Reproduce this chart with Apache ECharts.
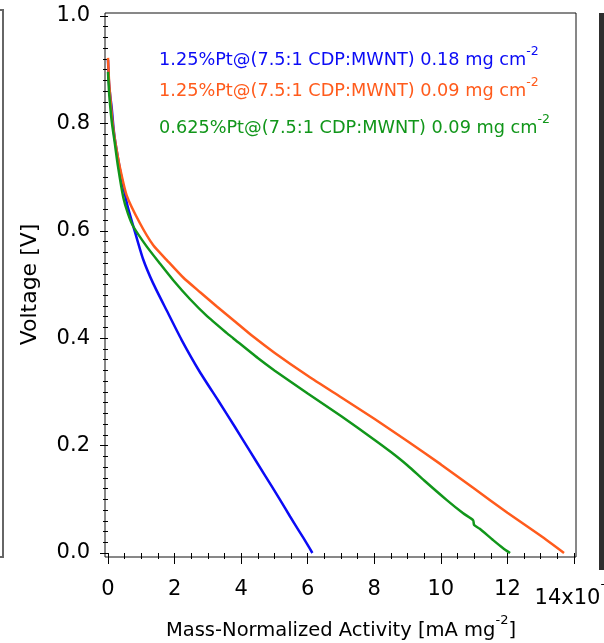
<!DOCTYPE html>
<html>
<head>
<meta charset="utf-8">
<script src="https://cdn.jsdelivr.net/npm/echarts@6/dist/echarts.min.js"></script>
<style>
  html, body { margin: 0; padding: 0; background: #fff; }
  #chart { width: 604px; height: 643px; }
</style>
</head>
<body>
<div id="chart"></div>
<script>
// legend names (the trailing "-2" is drawn as a superscript)
const seriesNames = [
  '1.25%Pt@(7.5:1 CDP:MWNT) 0.18 mg cm-2',
  '1.25%Pt@(7.5:1 CDP:MWNT) 0.09 mg cm-2',
  '0.625%Pt@(7.5:1 CDP:MWNT) 0.09 mg cm-2'
];
const seriesColors = ['#0b0bf5', '#ff5b1c', '#11961a'];

// [activity mA mg-2 (x10^-3), voltage V]
const blue018 = [
  [0, 0.918], [0.03, 0.875], [0.07, 0.85], [0.11, 0.83], [0.16, 0.795],
  [0.21, 0.769], [0.3, 0.735], [0.38, 0.707], [0.58, 0.648], [0.8, 0.6],
  [1.05, 0.548], [1.35, 0.503], [1.76, 0.452], [2.21, 0.397], [2.75, 0.338],
  [3.32, 0.283], [3.8, 0.236], [4.24, 0.192], [4.7, 0.146], [5.17, 0.099],
  [5.47, 0.068], [5.77, 0.038], [5.97, 0.018], [6.14, 0]
];
const orange009 = [
  [0, 0.922], [0.03, 0.88], [0.08, 0.84], [0.14, 0.8], [0.22, 0.765],
  [0.35, 0.72], [0.56, 0.666], [0.96, 0.614], [1.36, 0.573], [1.76, 0.546],
  [2.26, 0.513], [2.76, 0.486], [3.27, 0.459], [3.76, 0.434], [4.36, 0.403],
  [5, 0.373], [6, 0.33], [7, 0.29], [8, 0.25], [9, 0.208], [10, 0.165],
  [11, 0.12], [12, 0.075], [13, 0.032], [13.7, 0]
];
const green009 = [
  [0, 0.896], [0.03, 0.86], [0.07, 0.83], [0.12, 0.8], [0.2, 0.765],
  [0.3, 0.72], [0.46, 0.662], [0.6, 0.632], [0.76, 0.608], [1.16, 0.571],
  [1.56, 0.539], [1.96, 0.508], [2.46, 0.473], [2.96, 0.442], [3.56, 0.41],
  [3.76, 0.4], [4.5, 0.363], [5, 0.34], [6, 0.297], [7, 0.255], [8, 0.211],
  [8.5, 0.188], [9, 0.163], [9.5, 0.135], [10.17, 0.099],
  [10.67, 0.074], [10.97, 0.061], [11.0, 0.052], [11.17, 0.045],
  [11.57, 0.024], [11.87, 0.009], [12.08, 0]
];
const seriesData = [blue018, orange009, green009];
const legendTops = [45, 76, 113];

const font = 'DejaVu Sans';
const chart = echarts.init(document.getElementById('chart'));

chart.setOption({
  animation: false,
  backgroundColor: '#fff',
  grid: [
    // data grid: x 0..14, y 0..1
    { left: 108, right: 30, top: 16, bottom: 90, outerBoundsMode: 'none', containLabel: false },
    // plot frame
    { left: 105, right: 28, top: 13, bottom: 86, show: true, outerBoundsMode: 'none',
      borderColor: '#111', borderWidth: 1, backgroundColor: 'transparent' }
  ],
  xAxis: [
    {
      gridIndex: 0, type: 'value', min: 0, max: 14, interval: 2, offset: 4,
      axisLine: { show: false },
      axisTick: { length: 11, lineStyle: { color: '#000' } },
      minorTick: { show: true, splitNumber: 4, length: 6, lineStyle: { color: '#000' } },
      splitLine: { show: false },
      axisLabel: {
        margin: 21, color: '#000', fontFamily: font,
        formatter: v => v === 14 ? '{e|14x10}{p|-3}' : '{n|' + v + '}',
        rich: {
          n: { fontSize: 21, lineHeight: 24, fontFamily: font, color: '#000' },
          e: { fontSize: 21, lineHeight: 42, fontFamily: font, color: '#000' },
          p: { fontSize: 13, lineHeight: 14, verticalAlign: 'top', fontFamily: font, color: '#000' }
        }
      },
      name: '{a|Mass-Normalized Activity [mA mg}{s|-2}{a|]}',
      nameLocation: 'middle', nameGap: 53,
      nameTextStyle: {
        rich: {
          a: { fontSize: 19.5, lineHeight: 34, fontFamily: font, color: '#000' },
          s: { fontSize: 13, lineHeight: 12, verticalAlign: 'top', fontFamily: font, color: '#000' }
        }
      }
    },
    { gridIndex: 1, type: 'value', show: false }
  ],
  yAxis: [
    {
      gridIndex: 0, type: 'value', min: 0, max: 1, interval: 0.2, offset: 3,
      axisLine: { show: false },
      axisTick: { length: 8, lineStyle: { color: '#000' } },
      minorTick: { show: true, splitNumber: 10, length: 5, lineStyle: { color: '#000' } },
      splitLine: { show: false },
      axisLabel: {
        margin: 15, fontSize: 21, color: '#000', fontFamily: font,
        formatter: v => v.toFixed(1)
      },
      name: 'Voltage [V]', nameLocation: 'middle', nameGap: 64,
      nameTextStyle: { fontSize: 22, color: '#000', fontFamily: font }
    },
    { gridIndex: 1, type: 'value', show: false }
  ],
  legend: seriesNames.map((name, i) => ({
    data: [name],
    left: 153, top: legendTops[i], orient: 'vertical', padding: 0,
    itemWidth: 0, itemHeight: 0, selectedMode: false,
    formatter: n => '{t|' + n.slice(0, -2) + '}{s|-2}',
    textStyle: {
      color: seriesColors[i],
      rich: {
        t: { fontSize: 17.7, lineHeight: 30, fontFamily: font, color: seriesColors[i] },
        s: { fontSize: 12.5, lineHeight: 10, verticalAlign: 'top', fontFamily: font, color: seriesColors[i] }
      }
    }
  })),
  series: seriesNames.map((name, i) => ({
    name, type: 'line', xAxisIndex: 0, yAxisIndex: 0,
    data: seriesData[i], showSymbol: false, clip: false,
    smooth: 0.2,
    color: seriesColors[i],
    lineStyle: { width: 2.5, color: seriesColors[i] }
  })),
  graphic: [
    // edges of the neighbouring panels
    { type: 'rect', shape: { x: -10, y: 10, width: 13, height: 547 },
      style: { fill: 'none', stroke: '#666', lineWidth: 2 } },
    { type: 'rect', shape: { x: 599, y: 13, width: 10, height: 557 },
      style: { fill: '#2e2e2e' } }
  ]
});
</script>
</body>
</html>
